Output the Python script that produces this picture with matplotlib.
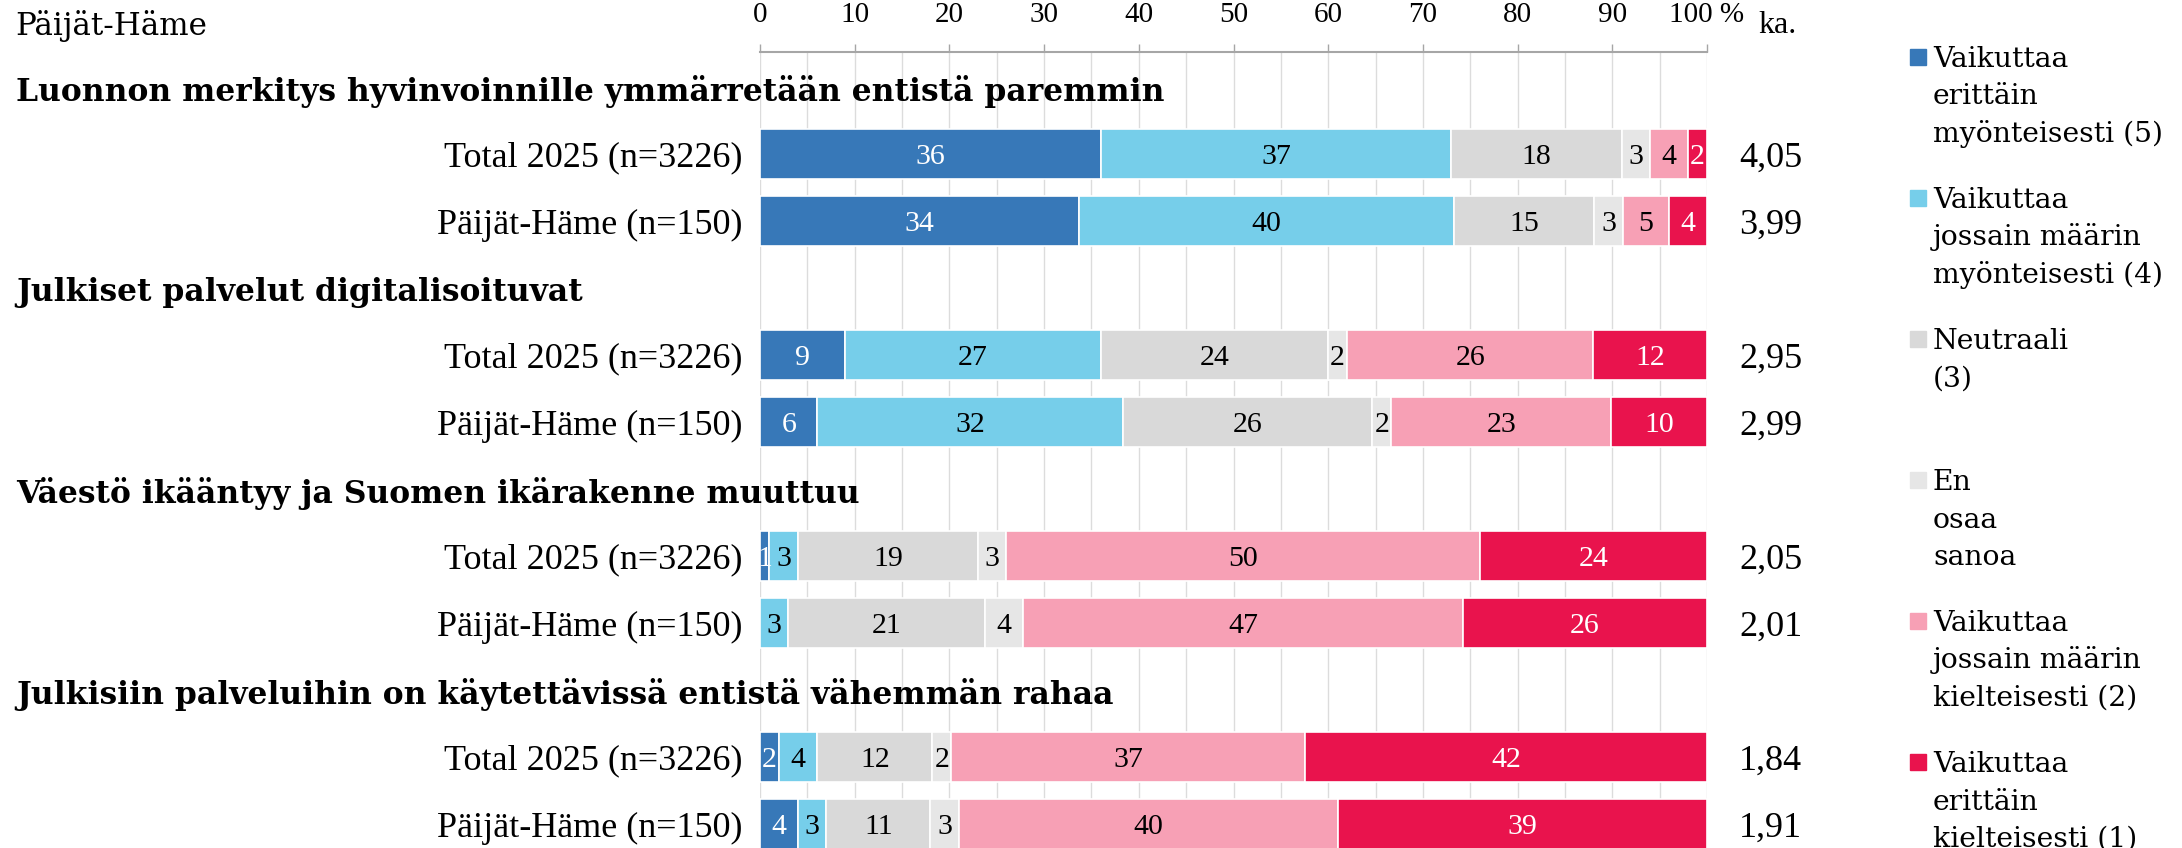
import matplotlib
matplotlib.use("Agg")
import matplotlib.pyplot as plt
import matplotlib.transforms as mtransforms
from matplotlib.patches import Rectangle
import numpy as np

plt.rcParams['font.family'] = ['Liberation Serif', 'DejaVu Serif']

# ---------------- data ----------------
region_title = "Päijät-Häme"
questions = [
    "Luonnon merkitys hyvinvoinnille ymmärretään entistä paremmin",
    "Julkiset palvelut digitalisoituvat",
    "Väestö ikääntyy ja Suomen ikärakenne muuttuu",
    "Julkisiin palveluihin on käytettävissä entistä vähemmän rahaa",
]
row_labels = ["Total 2025 (n=3226)", "Päijät-Häme (n=150)"]
categories = [
    "Vaikuttaa\nerittäin\nmyönteisesti (5)",
    "Vaikuttaa\njossain määrin\nmyönteisesti (4)",
    "Neutraali\n(3)",
    "En\nosaa\nsanoa",
    "Vaikuttaa\njossain määrin\nkielteisesti (2)",
    "Vaikuttaa\nerittäin\nkielteisesti (1)",
]
colors = ["#3778B8", "#76CEEA", "#D9D9D9", "#E6E6E6", "#F7A0B5", "#E9134D"]
label_colors = ["white", "black", "black", "black", "black", "white"]

# values per question: [Total 2025, Päijät-Häme], categories 5,4,3,EOS,2,1
q1_total = [36, 37, 18, 3, 4, 2]
q1_region = [34, 40, 15, 3, 5, 4]
q2_total = [9, 27, 24, 2, 26, 12]
q2_region = [6, 32, 26, 2, 23, 10]
q3_total = [1, 3, 19, 3, 50, 24]
q3_region = [0, 3, 21, 4, 47, 26]
q4_total = [2, 4, 12, 2, 37, 42]
q4_region = [4, 3, 11, 3, 40, 39]
series = [[q1_total, q1_region], [q2_total, q2_region],
          [q3_total, q3_region], [q4_total, q4_region]]
averages = [["4,05", "3,99"], ["2,95", "2,99"], ["2,05", "2,01"], ["1,84", "1,91"]]

xticks = list(range(0, 101, 10))
xtick_labels = [str(t) for t in xticks[:-1]] + ["100 %"]
avg_header = "ka."

# ---------------- layout ----------------
W, H = 2182, 848
fig = plt.figure(figsize=(W / 100, H / 100), dpi=100)
renderer = fig.canvas.get_renderer()


def fit_size(text, target_px, **kw):
    t = fig.text(0, 0, text, fontsize=20, **kw)
    w = t.get_window_extent(renderer=renderer).width
    t.remove()
    return 20 * target_px / w


title_font = dict(family=['DejaVu Serif'], fontweight='bold')
title_size = fit_size(questions[0], 1150, **title_font)
legend_font = dict(family=['DejaVu Serif'])
legend_size = fit_size("myönteisesti (5)", 230, **legend_font)
region_size = fit_size(region_title, 192, family=['DejaVu Serif'])

ax_left, ax_right, ax_top = 760, 1707, 52
ax = fig.add_axes([ax_left / W, 0, (ax_right - ax_left) / W, (H - ax_top) / H])
ax.set_xlim(0, 100)
ax.set_ylim(H, ax_top)  # y data = pixel distance from figure top

first_bar = 154.3
group_step = 201
row_step = 67
bar_h = 50
title_off = -66
avg_x = 106.7

blend = mtransforms.blended_transform_factory(fig.transFigure, ax.transData)

for g, (q, rows) in enumerate(zip(questions, series)):
    gy = first_bar + g * group_step
    ax.text(16 / W, gy + title_off, q, transform=blend, ha='left',
            va='center_baseline', fontsize=title_size, **title_font)
    for r, vals in enumerate(rows):
        y = gy + r * row_step
        vals = np.array(vals, dtype=float)
        widths = vals / vals.sum() * 100
        lefts = np.concatenate([[0], np.cumsum(widths)[:-1]])
        ax.barh(y, widths, left=lefts, height=bar_h, color=colors,
                edgecolor='white', linewidth=1.2, zorder=3)
        for v, w, l, lc in zip(vals, widths, lefts, label_colors):
            if v > 0:
                ax.text(l + w / 2, y, f"{int(v)}", ha='center',
                        va='center_baseline', color=lc, fontsize=21.5, zorder=4)
        ax.text(-1.8, y, row_labels[r], ha='right', va='center_baseline',
                fontsize=26)
        ax.text(avg_x, y, averages[g][r], ha='center', va='center_baseline',
                fontsize=26)

# axis
ax.xaxis.tick_top()
ax.set_xticks(xticks)
ax.set_xticklabels(xtick_labels)
ax.set_xticks(np.arange(5, 100, 10), minor=True)
ax.tick_params(axis='x', which='major', direction='out', length=6, width=1,
               color='#A6A6A6', pad=11, labelsize=21)
ax.tick_params(axis='x', which='minor', length=0)
ax.set_yticks([])
ax.grid(axis='x', which='both', color='#DCDCDC', linewidth=1, zorder=0)
ax.set_axisbelow(True)
for s in ['left', 'right', 'bottom']:
    ax.spines[s].set_visible(False)
ax.spines['top'].set_color('#A6A6A6')
ax.spines['top'].set_linewidth(1.5)

ax.text(107.4, 22, avg_header, ha='center', va='center_baseline', fontsize=23)
ax.text(15 / W, 22, region_title, transform=blend, ha='left',
        va='center_baseline', fontsize=region_size, family=['DejaVu Serif'])

# legend (manual, uniform slots)
leg_first_base = 67
leg_step = 141
line_step = 37.5
for i, (lab, c) in enumerate(zip(categories, colors)):
    base = leg_first_base + i * leg_step
    sq_c = base - 10.5
    fig.add_artist(Rectangle((1910 / W, 1 - (sq_c + 8) / H), 16 / W, 16 / H,
                             transform=fig.transFigure, color=c))
    for k, line in enumerate(lab.split("\n")):
        fig.text(1933 / W, 1 - (base + k * line_step) / H, line,
                 ha='left', va='baseline', fontsize=legend_size, **legend_font)

fig.savefig("out.png", dpi=100)
